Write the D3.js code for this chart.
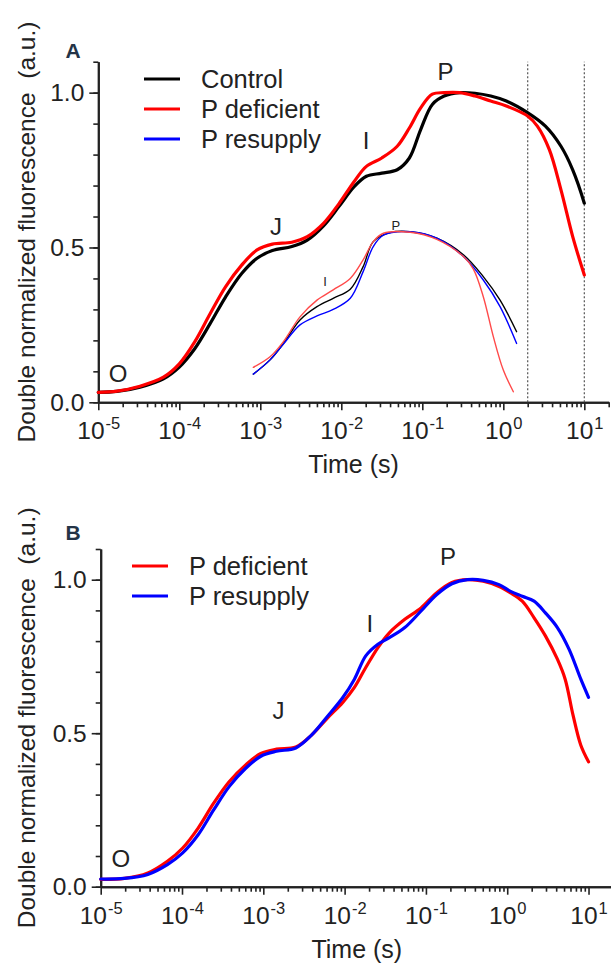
<!DOCTYPE html>
<html>
<head>
<meta charset="utf-8">
<script src="https://cdn.jsdelivr.net/npm/d3@7"></script>
<style>
  body { margin: 0; background: #fff; }
  svg { display: block; }
</style>
</head>
<body>
<script>
const width = 611;
const height = 964;
const FONT = "'Liberation Sans', Arial, Helvetica, sans-serif";

// ---- Panel A: main curves (time in s, double normalized fluorescence)
const timeControlA = [1e-5, 1.7e-5, 3.27e-5, 6.37e-5, 1e-4, 1.55e-4, 2.4e-4, 3.72e-4, 5.89e-4, 9.12e-4,
  1.41e-3, 2.45e-3, 3.8e-3, 6.03e-3, 9.33e-3, 0.0145, 0.0204, 0.0316, 0.049, 0.0692, 0.0955, 0.133,
  0.186, 0.288, 0.447, 0.70, 1.09, 2.01, 3.31, 5.15, 7.19, 10];
const controlA = [0.032, 0.035, 0.049, 0.076, 0.114, 0.173, 0.254, 0.34, 0.416, 0.465,
  0.49, 0.503, 0.524, 0.57, 0.632, 0.697, 0.73, 0.74, 0.751, 0.789, 0.881, 0.962,
  0.989, 1.0, 0.998, 0.989, 0.973, 0.935, 0.892, 0.827, 0.751, 0.643];

const timeDeficientA = [1e-5, 1.7e-5, 3.27e-5, 6.37e-5, 1e-4, 1.55e-4, 2.4e-4, 3.72e-4, 5.89e-4, 9.12e-4,
  1.41e-3, 2.45e-3, 3.8e-3, 6.03e-3, 9.33e-3, 0.0145, 0.0204, 0.0316, 0.049, 0.0692, 0.0955, 0.133,
  0.186, 0.288, 0.447, 0.70, 1.09, 2.01, 2.63, 3.70, 5.15, 7.19, 10];
const deficientA = [0.032, 0.036, 0.052, 0.081, 0.124, 0.195, 0.286, 0.373, 0.443, 0.492,
  0.511, 0.517, 0.535, 0.578, 0.641, 0.714, 0.762, 0.789, 0.827, 0.886, 0.951, 0.995,
  1.0, 1.0, 0.989, 0.973, 0.957, 0.924, 0.892, 0.816, 0.686, 0.535, 0.411];

// ---- Panel A: inset curves
const timeInset = [8.2e-4, 1.32e-3, 1.93e-3, 3.09e-3, 5.01e-3, 7.94e-3, 0.0129, 0.0186, 0.0248, 0.0398,
  0.0708, 0.151, 0.324, 0.566, 0.912, 1.46];
const insetControl = [0.091, 0.137, 0.19, 0.266, 0.309, 0.336, 0.365, 0.438, 0.519, 0.548,
  0.551, 0.530, 0.476, 0.406, 0.330, 0.228];
const timeInsetResupply = [8.2e-4, 1.32e-3, 1.93e-3, 3.09e-3, 5.01e-3, 7.94e-3, 0.0129, 0.0186, 0.0248, 0.0331,
  0.0708, 0.151, 0.324, 0.566, 0.912, 1.46];
const insetResupply = [0.091, 0.137, 0.188, 0.25, 0.279, 0.30, 0.336, 0.422, 0.503, 0.54,
  0.551, 0.530, 0.47, 0.395, 0.309, 0.19];
const timeInsetDeficient = [8.2e-4, 1.32e-3, 1.93e-3, 3.09e-3, 5.01e-3, 7.94e-3, 0.0129, 0.0186, 0.0248, 0.0331,
  0.0708, 0.151, 0.324, 0.427, 0.566, 0.753, 1.0, 1.33];
const insetDeficient = [0.113, 0.147, 0.196, 0.276, 0.33, 0.363, 0.40, 0.46, 0.519, 0.546,
  0.549, 0.526, 0.47, 0.43, 0.341, 0.212, 0.104, 0.034];

// ---- Panel B
const timeDeficientB = [1e-5, 1.95e-5, 3.8e-5, 6.61e-5, 1.02e-4, 1.58e-4, 2.45e-4, 3.8e-4, 6.03e-4, 9.33e-4,
  1.45e-3, 2.51e-3, 3.89e-3, 6.03e-3, 9.55e-3, 0.0132, 0.0182, 0.0257, 0.0355, 0.055, 0.0871, 0.135,
  0.209, 0.324, 0.507, 0.794, 1.10, 1.53, 2.14, 2.95, 4.14, 5.16, 6.46, 8.04, 10];
const deficientB = [0.024, 0.027, 0.045, 0.083, 0.126, 0.191, 0.272, 0.342, 0.396, 0.434,
  0.448, 0.455, 0.493, 0.547, 0.601, 0.649, 0.714, 0.779, 0.827, 0.871, 0.908, 0.957,
  0.991, 1.0, 0.995, 0.978, 0.957, 0.93, 0.876, 0.817, 0.741, 0.676, 0.558, 0.461, 0.407];
const timeResupplyB = [1e-5, 1.95e-5, 3.8e-5, 6.61e-5, 1.02e-4, 1.58e-4, 2.45e-4, 3.8e-4, 6.03e-4, 9.33e-4,
  1.45e-3, 2.51e-3, 3.89e-3, 6.03e-3, 9.55e-3, 0.0132, 0.0182, 0.0257, 0.0355, 0.055, 0.0871, 0.135,
  0.209, 0.324, 0.507, 0.794, 1.10, 1.53, 2.14, 2.95, 4.14, 5.77, 8.04, 10];
const resupplyB = [0.025, 0.027, 0.04, 0.072, 0.11, 0.169, 0.25, 0.326, 0.385, 0.425,
  0.441, 0.452, 0.493, 0.552, 0.617, 0.676, 0.752, 0.79, 0.811, 0.844, 0.898, 0.951,
  0.987, 1.0, 0.998, 0.984, 0.962, 0.946, 0.93, 0.892, 0.844, 0.773, 0.676, 0.617];

// ---- axis ticks and labels
const majorExponents = [-5, -4, -3, -2, -1, 0, 1];
const yMajorTicks = [0, 0.5, 1.0];
const yMinorTicks = [0, 0.1, 0.2, 0.3, 0.4, 0.5, 0.6, 0.7, 0.8, 0.9, 1.0, 1.1];
const legendA = ["Control", "P deficient", "P resupply"];
const legendB = ["P deficient", "P resupply"];
const phaseNames = ["O", "J", "I", "P"];
const phaseTimeA = [1.75e-5, 1.56e-3, 0.0202, 0.193];
const phaseValueA = [0.095, 0.567, 0.847, 1.068];
const phaseTimeB = [1.77e-5, 1.54e-3, 0.0205, 0.187];
const phaseValueB = [0.0935, 0.5756, 0.859, 1.075];
const insetNames = ["I", "P"];
const insetTime = [6.3e-3, 0.047];
const insetValue = [0.39, 0.573];
const dottedTimes = [2, 10];

const colors = { "Control": "#000", "P deficient": "#ff0000", "P resupply": "#0000ff" };

const svg = d3.select("body")
  .append("svg")
  .attr("width", width)
  .attr("height", height)
  .style("font-family", FONT);

function zip(ts, vs) {
  return ts.map((t, i) => ({ t: t, v: vs[i] }));
}

function drawPanel(p) {
  const x = d3.scaleLog().domain([1e-5, 20]).range([p.left, p.right]);
  const y = d3.scaleLinear().domain([0, 1.1]).range([p.bottom, p.top]);
  const g = svg.append("g");

  // minor x ticks
  const minorX = [];
  majorExponents.forEach(e => {
    for (let m = 2; m <= 9; m++) {
      const val = m * Math.pow(10, e);
      if (val <= 20) minorX.push(val);
    }
  });

  g.append("g")
    .attr("transform", `translate(0,${p.bottom})`)
    .call(d3.axisBottom(x).tickValues(minorX).tickSize(5).tickSizeOuter(0).tickFormat(""));

  const xAxis = g.append("g")
    .attr("transform", `translate(0,${p.bottom})`)
    .call(d3.axisBottom(x)
      .tickValues(majorExponents.map(e => Math.pow(10, e)))
      .tickSize(8).tickSizeOuter(0).tickFormat(""));

  xAxis.selectAll(".tick").each(function(d, i) {
    const t = d3.select(this).append("text")
      .attr("y", 37)
      .attr("fill", "#222")
      .attr("text-anchor", "middle")
      .style("font-size", "24.5px");
    t.append("tspan").text("10");
    t.append("tspan")
      .attr("dy", -10)
      .attr("dx", 1)
      .style("font-size", "16.5px")
      .text(majorExponents[i]);
  });

  g.append("g")
    .attr("transform", `translate(${p.left},0)`)
    .call(d3.axisLeft(y).tickValues(yMinorTicks).tickSize(5).tickSizeOuter(0).tickFormat(""));

  g.append("g")
    .attr("transform", `translate(${p.left},0)`)
    .call(d3.axisLeft(y).tickValues(yMajorTicks).tickSize(9).tickPadding(5).tickSizeOuter(0)
      .tickFormat(d3.format(".1f")))
    .selectAll("text")
    .attr("fill", "#222")
    .style("font-size", "24.5px")
    .style("font-family", FONT);

  g.selectAll(".domain").attr("stroke", "#222").attr("stroke-width", 2);
  g.selectAll(".tick line").attr("stroke", "#222").attr("stroke-width", 1.6);

  // dotted reference lines
  g.selectAll(".dotted")
    .data(p.dotted || [])
    .enter()
    .append("line")
    .attr("x1", d => x(d)).attr("x2", d => x(d))
    .attr("y1", y(0)).attr("y2", y(1.1))
    .attr("stroke", "#555")
    .attr("stroke-width", 1.2)
    .attr("stroke-dasharray", "2,2");

  const line = d3.line()
    .x(d => x(d.t))
    .y(d => y(d.v))
    .curve(d3.curveCatmullRom.alpha(0.5));

  g.selectAll(".series")
    .data(p.series)
    .enter()
    .append("path")
    .attr("fill", "none")
    .attr("stroke", d => d.color)
    .attr("stroke-width", d => d.width)
    .attr("stroke-linejoin", "round")
    .attr("stroke-linecap", "round")
    .attr("d", d => line(d.points));

  // phase labels
  g.selectAll(".phase")
    .data(p.phases)
    .enter()
    .append("text")
    .attr("x", d => x(d.t))
    .attr("y", d => y(d.v))
    .attr("dy", "0.36em")
    .attr("text-anchor", "middle")
    .attr("fill", "#222")
    .style("font-size", d => d.size + "px")
    .text(d => d.name);

  // legend
  const leg = g.selectAll(".legend")
    .data(p.legend)
    .enter()
    .append("g")
    .attr("transform", (d, i) => `translate(0,${p.legendY + i * 30})`);
  leg.append("line")
    .attr("x1", p.legendX).attr("x2", p.legendX + 36)
    .attr("stroke", d => colors[d])
    .attr("stroke-width", 3);
  leg.append("text")
    .attr("x", p.legendX + 57)
    .attr("dy", "0.36em")
    .attr("fill", "#222")
    .style("font-size", "25.5px")
    .text(d => d);

  // axis titles
  g.append("text")
    .attr("x", (p.left + p.right) / 2)
    .attr("y", p.bottom + 71)
    .attr("text-anchor", "middle")
    .attr("fill", "#222")
    .style("font-size", "25px")
    .text("Time (s)");

  g.append("text")
    .attr("transform", `translate(35,${(p.top + p.bottom) / 2}) rotate(-90)`)
    .attr("text-anchor", "middle")
    .attr("fill", "#222")
    .style("font-size", "24.5px")
    .style("white-space", "pre")
    .text("Double normalized fluorescence  (a.u.)");

  g.append("text")
    .attr("x", 73)
    .attr("y", p.letterY)
    .attr("dy", "0.36em")
    .attr("text-anchor", "middle")
    .attr("fill", "#243447")
    .style("font-size", "21px")
    .style("font-weight", "bold")
    .text(p.letter);
}

drawPanel({
  letter: "A", letterY: 50,
  left: 98.3, right: 608.7, bottom: 402.3, top: 61.7,
  legendX: 144, legendY: 79, legend: legendA,
  dotted: dottedTimes,
  series: [
    { color: "#000", width: 3.2, points: zip(timeControlA, controlA) },
    { color: "#ff0000", width: 3.2, points: zip(timeDeficientA, deficientA) },
    { color: "#000", width: 1.4, points: zip(timeInset, insetControl) },
    { color: "#0000ff", width: 1.4, points: zip(timeInsetResupply, insetResupply) },
    { color: "#ff4a4a", width: 1.4, points: zip(timeInsetDeficient, insetDeficient) }
  ],
  phases: phaseNames.map((n, i) => ({ name: n, t: phaseTimeA[i], v: phaseValueA[i], size: 24 }))
    .concat(insetNames.map((n, i) => ({ name: n, t: insetTime[i], v: insetValue[i], size: 13 })))
});

drawPanel({
  letter: "B", letterY: 532,
  left: 100.7, right: 613, bottom: 886.7, top: 549,
  legendX: 132, legendY: 566, legend: legendB,
  series: [
    { color: "#ff0000", width: 3.2, points: zip(timeDeficientB, deficientB) },
    { color: "#0000ff", width: 3.2, points: zip(timeResupplyB, resupplyB) }
  ],
  phases: phaseNames.map((n, i) => ({ name: n, t: phaseTimeB[i], v: phaseValueB[i], size: 24 }))
});
</script>
</body>
</html>
